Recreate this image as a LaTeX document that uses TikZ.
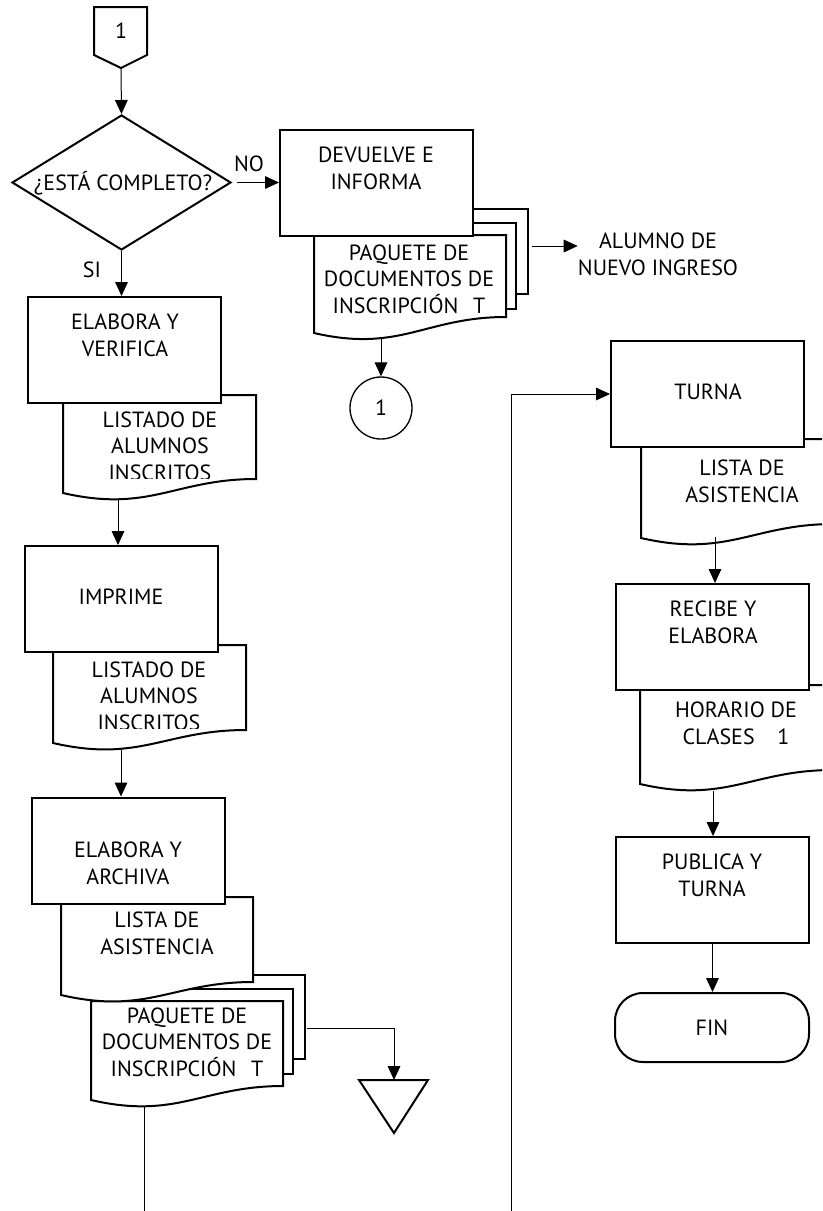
\documentclass[tikz,border=0pt]{standalone}
\usepackage{fontspec}
\setmainfont{PT Sans}
\usetikzlibrary{arrows.meta,shapes.geometric,calc}

% document symbol: left x, top y, right x, bottom-left y, bottom-right y
\newcommand{\docshape}[5]{%
  \pgfmathsetmacro{\dwA}{#1+0.45*(#3-#1)}%
  \pgfmathsetmacro{\dwB}{#1+0.58*(#3-#1)}%
  \pgfmathsetmacro{\dyA}{#4+20}%
  \path[shapeline] (#1,#2) -- (#1,#4) .. controls (\dwA,\dyA) and (\dwB,#5) .. (#3,#5) -- (#3,#2) -- cycle;
}

\tikzset{
  shapeline/.style={draw=black, line width=1.5pt, fill=white},
  procbox/.style={shapeline, rectangle, minimum width=144.75pt, minimum height=79.5pt, inner sep=0pt},
  txt/.style={font=\fontsize{16.5}{20}\selectfont, align=center, inner sep=0pt},
  conn/.style={draw=black, line width=0.75pt, -{Triangle[length=10.5pt,width=9.5pt]}},
  plainline/.style={draw=black, line width=0.75pt},
}

\begin{document}
\begin{tikzpicture}[x=0.75pt,y=-0.75pt]
\useasboundingbox (0,0) rectangle (822,1211);
\clip (0,0) rectangle (822,1211);

% ---------- off-page connector and decision ----------
\path[shapeline] (94,7) -- (147,7) -- (147,55) -- (121,68) -- (94,55) -- cycle;
\coordinate (opc-out) at (121,68);
\node[txt] (opc-txt) at (121,31) {1};

\node[shapeline, diamond, minimum width=164.25pt, minimum height=101.25pt, inner sep=0pt] (dec) at (121.5,182.5) {};
\node[txt] (dec-txt) at (123,183) {¿ESTÁ COMPLETO?};
\node[txt] (no) at (249,164) {NO};
\node[txt] (si) at (92,270) {SI};

% ---------- return branch ----------
\path[shapeline] (336,209) rectangle (528,294);
\path[shapeline] (324,223) rectangle (516,309);
\docshape{314}{235}{506}{333}{317}
\node[procbox] (dev) at (376.5,182.5) {};
\node[txt] (dev-txt) at (376,168.5) {DEVUELVE E\\INFORMA};
\node[txt] (pqA-txt) at (409,279) {PAQUETE DE\\DOCUMENTOS DE\\INSCRIPCIÓN\hspace{11pt}T};
\coordinate (pqA-side) at (532,246);
\coordinate (pqA-out) at (381,339);
\node[txt] (alu) at (658,254.5) {ALUMNO DE\\NUEVO INGRESO};
\node[circle, draw=black, line width=1pt, fill=white, minimum size=46.5pt, inner sep=0pt, txt] (con) at (381,408) {1};

% ---------- left column ----------
\docshape{63}{395}{256}{493}{479}
\node[procbox] (ver) at (124.5,350) {};
\node[txt] (ver-txt) at (125,335) {ELABORA Y\\VERIFICA};
\begin{scope}
  \clip (63,395) rectangle (256,478);
  \node[txt] (lst1-txt) at (160,446) {LISTADO DE\\ALUMNOS\\INSCRITOS};
\end{scope}
\coordinate (lst1-out) at (118,499);

\docshape{53}{645}{246}{743}{730}
\node[procbox] (imp) at (121,599) {};
\node[txt] (imp-txt) at (121,597) {IMPRIME};
\begin{scope}
  \clip (53,645) rectangle (246,728);
  \node[txt] (lst2-txt) at (149,696) {LISTADO DE\\ALUMNOS\\INSCRITOS};
\end{scope}
\coordinate (lst2-out) at (121,750);

\path[shapeline] (113,975) rectangle (305,1059);
\path[shapeline] (101,989) rectangle (293,1074);
\docshape{91}{1001}{283}{1100}{1086}
\docshape{61}{897}{253}{995}{982}
\node[procbox] (arc) at (128,850.5) {};
\node[txt] (arc-txt) at (128,863) {ELABORA Y\\ARCHIVA};
\node[txt] (lstA-txt) at (157,933.5) {LISTA DE\\ASISTENCIA};
\node[txt] (pqB-txt) at (187,1042) {PAQUETE DE\\DOCUMENTOS DE\\INSCRIPCIÓN\hspace{11pt}T};
\coordinate (pqB-side) at (307,1028);
\coordinate (pqB-out) at (144,1106);
\coordinate (pageB) at (144,1211);

\path[shapeline] (359,1080) -- (428,1080) -- (394,1133) -- cycle;
\coordinate (arch) at (394,1080);

% ---------- right column ----------
\coordinate (pageR) at (511,1211);
\docshape{641}{439}{834}{538}{524}
\node[procbox] (tur) at (707.5,394) {};
\node[txt] (tur-txt) at (708,392) {TURNA};
\node[txt] (lstR-txt) at (742,481) {LISTA DE\\ASISTENCIA};
\coordinate (lstR-out) at (715,537);

\docshape{640}{685}{833}{784}{770}
\node[procbox] (rec) at (712.5,637) {};
\node[txt] (rec-txt) at (713,622.5) {RECIBE Y\\ELABORA};
\node[txt] (hor-txt) at (736,723.5) {HORARIO DE\\CLASES\hspace{17pt}1};
\coordinate (hor-out) at (713,791);

\node[procbox] (pub) at (712.5,890) {};
\node[txt] (pub-txt) at (712,875) {PUBLICA Y\\TURNA};
\node[shapeline, rectangle, rounded corners=21pt, minimum width=145.5pt, minimum height=51.75pt, inner sep=0pt, txt] (fin) at (712,1027.5) {FIN};

% ---------- connectors ----------
\draw[conn] (opc-out) -- (dec.north);
\draw[conn] ([xshift=3.75pt]dec.east) -- (dev.west);
\draw[conn] (dec.south) -- (dec.south |- ver.north);
\draw[conn] (pqA-side) -- (pqA-side -| alu.west);
\draw[conn] (pqA-out) -- (con.north);
\draw[conn] (lst1-out) -- (lst1-out |- imp.north);
\draw[conn] (lst2-out) -- (lst2-out |- arc.north);
\draw[conn] (pqB-side) -| (arch);
\draw[plainline] (pqB-out) -- (pageB);
\draw[conn] (pageR) |- (tur.west);
\draw[conn] (lstR-out) -- (lstR-out |- rec.north);
\draw[conn] (hor-out) -- (hor-out |- pub.north);
\draw[conn] (pub.south) -- (pub.south |- fin.north);
\end{tikzpicture}
\end{document}
